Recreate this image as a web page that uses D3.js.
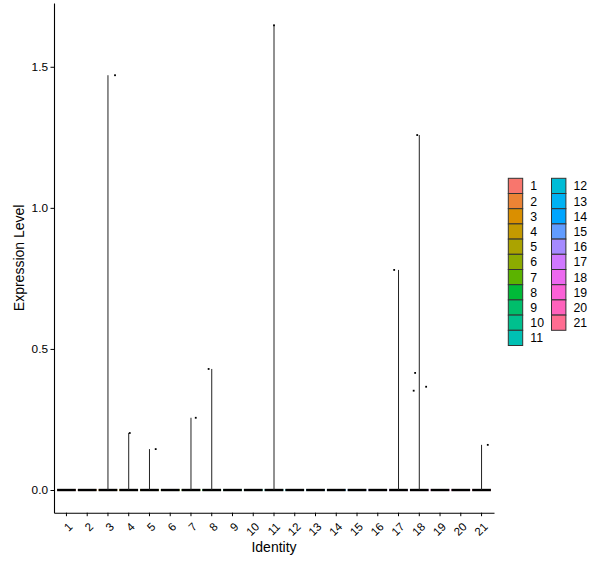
<!DOCTYPE html>
<html>
<head>
<meta charset="utf-8">
<script src="https://cdn.jsdelivr.net/npm/d3@7"></script>
<style>
  body { margin: 0; background: #fff; }
  text { font-family: "Liberation Sans", Arial, sans-serif; }
</style>
</head>
<body>
<div class="chart"></div>
<script>
// clusters shown on the x axis
const clusters = ['1','2','3','4','5','6','7','8','9','10','11','12','13','14','15','16','17','18','19','20','21'];
// highest expression per cluster (violin spike top), 0 = all cells at zero
const maxExpr = [0, 0, 1.47, 0.202, 0.145, 0, 0.256, 0.429, 0, 0, 1.647, 0, 0, 0, 0, 0, 0.78, 1.258, 0, 0, 0.16];
// the non-zero cells drawn as points
const pointCluster = ['3', '4', '5', '7', '8', '11', '17', '18', '18', '18', '18', '21'];
const pointValue = [1.47, 0.202, 0.145, 0.256, 0.429, 1.647, 0.78, 1.258, 0.415, 0.352, 0.366, 0.16];
const pointJitter = [0.34, 0.05, 0.30, 0.23, -0.15, 0, -0.21, -0.1, -0.2, -0.27, 0.33, 0.3];
const yTicks = [0, 0.5, 1, 1.5];
// ggplot hue palette for 21 levels
const colours = ['#F8766D','#EB8335','#DA8F00','#C49A00','#ABA300','#8CAB00','#5BB300','#00BA38','#00BE6B','#00C08E',
                 '#00C0B3','#00BCD6','#00B2F3','#00A5FF','#619CFF','#A58AFF','#D078FF','#EC69EF','#FB61D7','#FF62BC','#FF6C91'];

const width = 600, height = 568;
const margin = {top: 3, left: 54, right: 494, bottom: 512.7};

const svg = d3.select('.chart').append('svg')
  .attr('width', width)
  .attr('height', height);

const x = d3.scaleBand()
  .domain(clusters)
  .range([margin.left, margin.right])
  .paddingInner(0)
  .paddingOuter(0.1);

const y = d3.scaleLinear()
  .domain([-0.0804, 1.726])
  .range([margin.bottom, margin.top]);

const colour = d3.scaleOrdinal().domain(clusters).range(colours);

// violins: flat base at zero plus a thin spike up to the max
const violins = svg.append('g');
clusters.forEach((c, i) => {
  const cx = x(c) + x.bandwidth() / 2;
  const half = x.bandwidth() * 0.45;
  violins.append('rect')
    .attr('x', cx - half)
    .attr('y', y(0) - 1)
    .attr('width', half * 2)
    .attr('height', 2)
    .attr('fill', colour(c));
  violins.append('line')
    .attr('x1', cx - half).attr('x2', cx + half)
    .attr('y1', y(0)).attr('y2', y(0))
    .attr('stroke', '#000')
    .attr('stroke-width', 2.4);
  if (maxExpr[i] > 0) {
    violins.append('line')
      .attr('x1', cx).attr('x2', cx)
      .attr('y1', y(0)).attr('y2', y(maxExpr[i]))
      .attr('stroke', '#222')
      .attr('stroke-width', 1);
  }
});

// jittered points
svg.append('g').selectAll('rect')
  .data(pointValue)
  .enter()
  .append('rect')
  .attr('x', (d, i) => x(pointCluster[i]) + x.bandwidth() * (0.5 + pointJitter[i]) - 0.9)
  .attr('y', d => y(d) - 0.9)
  .attr('width', 1.8)
  .attr('height', 1.8)
  .attr('fill', '#000');

// y axis
const yAxis = svg.append('g')
  .attr('transform', 'translate(' + margin.left + ',0)')
  .call(d3.axisLeft(y).tickValues(yTicks).tickFormat(d3.format('.1f')).tickSize(3.5).tickSizeOuter(0).tickPadding(2.5));
yAxis.select('.domain').attr('stroke', '#000').attr('stroke-width', 1.1);
yAxis.selectAll('.tick line').attr('stroke', '#000');
yAxis.selectAll('.tick text').attr('fill', '#000').attr('font-size', '11.8px')
  .attr('font-family', '"Liberation Sans", Arial, sans-serif');

// x axis
const xAxis = svg.append('g')
  .attr('transform', 'translate(0,' + margin.bottom + ')')
  .call(d3.axisBottom(x).tickSize(3.5).tickSizeOuter(0));
xAxis.select('.domain').attr('stroke', '#000').attr('stroke-width', 1.1);
xAxis.selectAll('.tick line').attr('stroke', '#000');
xAxis.selectAll('.tick text')
  .attr('fill', '#000')
  .attr('font-size', '11.5px')
  .attr('font-family', '"Liberation Sans", Arial, sans-serif')
  .attr('text-anchor', 'end')
  .attr('y', 0)
  .attr('dy', '0.72em')
  .attr('transform', 'translate(1,9) rotate(-45)');

// axis titles
svg.append('text')
  .attr('x', (margin.left + margin.right) / 2)
  .attr('y', 552)
  .attr('text-anchor', 'middle')
  .attr('font-size', '14px')
  .text('Identity');

svg.append('text')
  .attr('transform', 'translate(24,' + ((margin.top + margin.bottom) / 2) + ') rotate(-90)')
  .attr('text-anchor', 'middle')
  .attr('font-size', '14px')
  .text('Expression Level');

// legend, two columns
const legend = svg.append('g');
const keyW = 14.4, keyH = 15.2, legendTop = 178.3;
clusters.forEach((c, i) => {
  const col = i < 11 ? 0 : 1;
  const row = i < 11 ? i : i - 11;
  const kx = col === 0 ? 508.3 : 551.5;
  const ky = legendTop + row * keyH;
  legend.append('rect')
    .attr('x', kx).attr('y', ky)
    .attr('width', keyW).attr('height', keyH)
    .attr('fill', colour(c))
    .attr('stroke', '#333')
    .attr('stroke-width', 1);
  legend.append('text')
    .attr('x', kx + 22)
    .attr('y', ky + keyH / 2)
    .attr('dy', '0.36em')
    .attr('font-size', '12.3px')
    .text(c);
});
</script>
</body>
</html>
